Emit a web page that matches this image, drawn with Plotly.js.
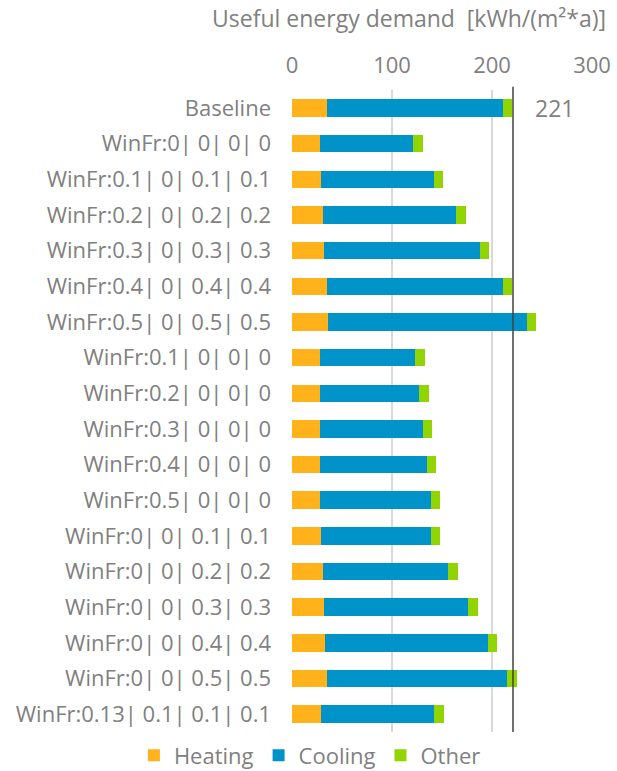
<!DOCTYPE html>
<html>
<head>
<meta charset="utf-8">
<script src="https://cdn.plot.ly/plotly-3.0.1.min.js"></script>
<style>html,body{margin:0;padding:0;background:#fff;}#chart{width:617px;height:771px;}</style>
</head>
<body>
<div id="chart"></div>
<script>
const categories = [
  "Baseline",
  "WinFr:0| 0| 0| 0",
  "WinFr:0.1| 0| 0.1| 0.1",
  "WinFr:0.2| 0| 0.2| 0.2",
  "WinFr:0.3| 0| 0.3| 0.3",
  "WinFr:0.4| 0| 0.4| 0.4",
  "WinFr:0.5| 0| 0.5| 0.5",
  "WinFr:0.1| 0| 0| 0",
  "WinFr:0.2| 0| 0| 0",
  "WinFr:0.3| 0| 0| 0",
  "WinFr:0.4| 0| 0| 0",
  "WinFr:0.5| 0| 0| 0",
  "WinFr:0| 0| 0.1| 0.1",
  "WinFr:0| 0| 0.2| 0.2",
  "WinFr:0| 0| 0.3| 0.3",
  "WinFr:0| 0| 0.4| 0.4",
  "WinFr:0| 0| 0.5| 0.5",
  "WinFr:0.13| 0.1| 0.1| 0.1"
];
const heating = [35, 28, 29, 31, 32, 35, 36, 28, 28, 28, 28, 28, 29, 31, 32, 33, 35, 29];
const cooling = [176, 93, 113, 133, 156, 176, 199, 95, 99, 103, 107, 111, 110, 125, 144, 163, 180, 113];
const other   = [9, 10, 9, 10, 9, 9, 9, 10, 10, 9, 9, 9, 9, 10, 10, 9, 10, 10];
const baselineTotal = 221;
const xTicks = [0, 100, 200, 300];

const font = {family: "Open Sans, Roboto, sans-serif", color: "#808080"};

const traces = [
  {name: "Heating", y: categories, x: heating, type: "bar", orientation: "h", marker: {color: "#FFB219"}},
  {name: "Cooling", y: categories, x: cooling, type: "bar", orientation: "h", marker: {color: "#0093C9"}},
  {name: "Other",   y: categories, x: other,   type: "bar", orientation: "h", marker: {color: "#92D400"}}
];

const layout = {
  width: 617, height: 771,
  barmode: "stack",
  bargap: 0.51,
  margin: {l: 292, r: 25, t: 90, b: 39, autoexpand: false},
  paper_bgcolor: "#fff", plot_bgcolor: "#fff",
  font: Object.assign({size: 22}, font),
  showlegend: true,
  title: {
    text: "Useful energy demand  [kWh/(m²*a)]",
    font: Object.assign({size: 23}, font),
    xref: "container", x: 0.663, xanchor: "center",
    yref: "container", y: 0.975, yanchor: "middle"
  },
  xaxis: {
    side: "top", range: [0, 300],
    tickvals: xTicks, ticktext: xTicks.map(String),
    showgrid: true, gridcolor: "#d9d9d9", gridwidth: 2,
    zeroline: false, showline: false,
    ticks: "", ticklabelstandoff: 12,
    tickfont: Object.assign({size: 22}, font),
    fixedrange: true
  },
  yaxis: {
    type: "category", autorange: "reversed",
    showgrid: false, zeroline: false, showline: false,
    ticks: "", ticklabelstandoff: 20,
    tickfont: Object.assign({size: 22}, font)
  },
  legend: {
    orientation: "h",
    xref: "paper", x: -0.527, xanchor: "left",
    yref: "paper", y: -0.004, yanchor: "top",
    font: Object.assign({size: 22}, font),
    itemwidth: 30, traceorder: "normal", tracegroupgap: 0
  },
  shapes: [{
    type: "line", xref: "x", yref: "paper",
    x0: baselineTotal, x1: baselineTotal, y0: 0, y1: 1.005,
    line: {color: "#404040", width: 1.5}
  }],
  annotations: [{
    x: baselineTotal, y: categories[0], xref: "x", yref: "y",
    text: String(baselineTotal), showarrow: false,
    xanchor: "left", xshift: 20,
    font: Object.assign({size: 23}, font)
  }]
};

Plotly.newPlot("chart", traces, layout, {displayModeBar: false, staticPlot: true});
</script>
</body>
</html>
